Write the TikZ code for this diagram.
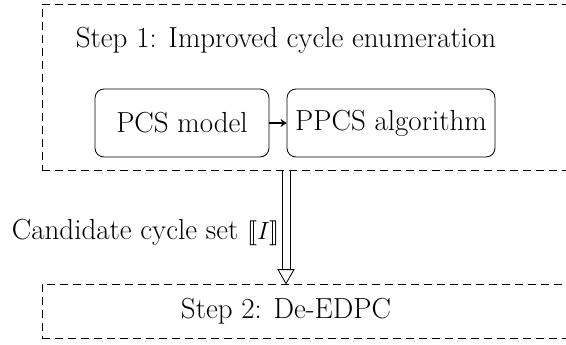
\documentclass[tikz,border=0pt]{standalone}
\usepackage{fontspec}
\usepackage{stmaryrd}
\usetikzlibrary{arrows.meta,positioning,calc}
\begin{document}
\begin{tikzpicture}[x=1pt,y=-1pt,
  dashbox/.style={draw, line width=0.8pt, dash pattern=on 8pt off 5pt, inner sep=0pt},
  roundbox/.style={draw, line width=0.8pt, rounded corners=9pt, inner sep=0pt, minimum height=68pt},
  txt/.style={font=\fontsize{29}{33}\selectfont, inner sep=0pt},
  smallarrow/.style={-{Stealth[length=6pt,width=8pt]}, line width=1.2pt}
]
\useasboundingbox (0,0) rectangle (566,345);
\begin{scope}
\clip (0,0) rectangle (566,345);
\node[dashbox, minimum width=558pt, minimum height=166pt] (box1) at (321,87) {};
\node[dashbox, minimum width=558pt, minimum height=54pt] (box2) at (321,311) {};
\end{scope}
\node[txt] (title1) at (286,40) {Step 1: Improved cycle enumeration};
\node[roundbox, minimum width=174pt] (pcs) at (182,123) {};
\node[txt] at (pcs) {PCS model};
\node[roundbox, minimum width=208pt] (ppcs) at (391,123) {};
\node[txt] at (ppcs) {PPCS algorithm};
\draw[smallarrow] (pcs.east) -- (ppcs.west);
\node[txt] (title2) at (286,311) {Step 2: De-EDPC};
% double arrow
\coordinate (s) at (box1.south -| title1);
\coordinate (e) at (box2.north -| title1);
\draw[line width=0.8pt] ($(s)+(-4,0)$) -- ($(e)+(-4,-14)$);
\draw[line width=0.8pt] ($(s)+(4,0)$) -- ($(e)+(4,-14)$);
\draw[line width=0.8pt, fill=white, line join=miter] ($(e)+(-8,-14)$) -- ($(e)+(8,-14)$) -- (e) -- cycle;
\node[txt, anchor=east] (lbl) at ($(s)!0.55!(e)+(-6,0)$) {Candidate cycle set $\llbracket I\rrbracket$};
\end{tikzpicture}
\end{document}
